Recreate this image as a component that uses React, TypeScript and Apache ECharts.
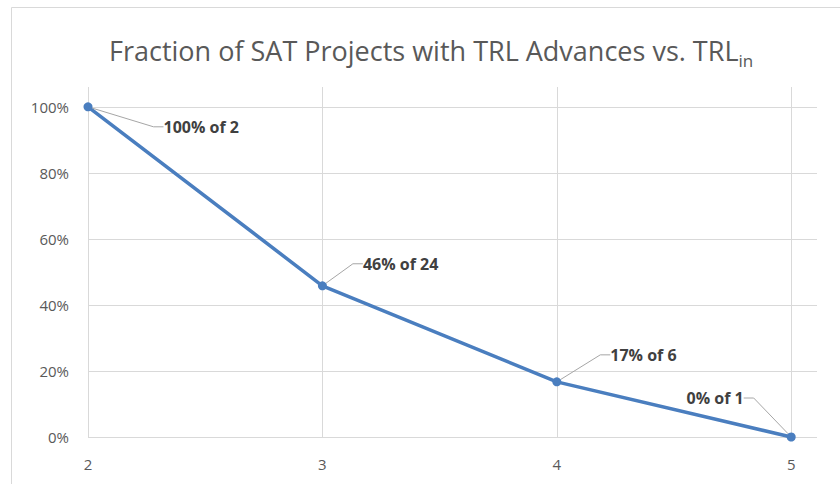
import React, { useEffect, useRef } from "react";
import * as echarts from "echarts";

const trlIn = [2, 3, 4, 5];
const fractionAdvanced = [100, 45.8, 16.7, 0];
const pointLabels = ["100% of 2", "46% of 24", "17% of 6", "0% of 1"];
const xTicks = [2, 3, 4, 5];
const yTicks = [0, 20, 40, 60, 80, 100];

const labelSide = ["right", "right", "right", "left"];
const labelShift = [
  [66, 20],
  [31, -22],
  [44, -27],
  [-38, -39],
];

const FONT = "'Open Sans', 'Noto Sans', sans-serif";

export default function App() {
  const ref = useRef<HTMLDivElement>(null);
  useEffect(() => {
    if (!ref.current) return;
    const chart = echarts.init(ref.current, undefined, { renderer: "svg" });
    chart.setOption({
      animation: false,
      backgroundColor: "#ffffff",
      title: {
        left: 104,
        top: 27,
        text: "{a|Fraction of SAT Projects with TRL Advances vs. TRL}{b|in}",
        textStyle: {
          fontWeight: "normal",
          rich: {
            a: { fontFamily: FONT, fontSize: 27, fontWeight: "normal", color: "#595959", lineHeight: 37 },
            b: { fontFamily: FONT, fontSize: 17, fontWeight: "normal", color: "#595959", lineHeight: 17, verticalAlign: "bottom" },
          },
        },
      },
      graphic: [
        {
          type: "rect",
          silent: true,
          z: -10,
          shape: { x: 11.5, y: 7.5, width: 840, height: 500 },
          style: { fill: "none", stroke: "#d9d9d9", lineWidth: 1 },
        },
      ],
      grid: { left: 88, right: 23, top: 87, bottom: 47 },
      xAxis: {
        type: "value",
        min: 2,
        max: 5.11,
        interval: 1,
        axisLine: { show: false },
        axisTick: { show: false },
        splitLine: { show: false },
        axisLabel: {
          margin: 19,
          fontFamily: FONT,
          fontSize: 15,
          color: "#595959",
          formatter: (v: number) => (xTicks.includes(v) ? String(v) : ""),
        },
      },
      yAxis: {
        type: "value",
        min: 0,
        max: 106,
        interval: 20,
        axisLine: { show: false },
        axisTick: { show: false },
        splitLine: { show: false },
        axisLabel: {
          margin: 19,
          fontFamily: FONT,
          fontSize: 15,
          color: "#595959",
          formatter: (v: number) => (yTicks.includes(v) ? v + "%" : ""),
        },
      },
      series: [
        {
          type: "line",
          data: [],
          silent: true,
          markLine: {
            silent: true,
            z: 1,
            symbol: ["none", "none"],
            label: { show: false },
            lineStyle: { color: "#d9d9d9", type: "solid", width: 1 },
            data: [
              ...xTicks.map((v) => ({ xAxis: v })),
              ...yTicks.map((v) => ({ yAxis: v })),
            ],
          },
        },
        {
          type: "line",
          z: 3,
          symbol: "circle",
          symbolSize: 9,
          itemStyle: { color: "#4a7ebf" },
          lineStyle: { color: "#4a7ebf", width: 3.5 },
          data: trlIn.map((x, i) => ({
            value: [x, fractionAdvanced[i]],
            label: { position: labelSide[i] },
          })),
          label: {
            show: true,
            fontFamily: FONT,
            fontSize: 16,
            fontWeight: "bold",
            color: "#404040",
            formatter: (p: any) => pointLabels[p.dataIndex],
          },
          labelLine: {
            show: true,
            length2: 10,
            lineStyle: { color: "#a6a6a6", width: 1 },
          },
          labelLayout: (p: any) => ({
            dx: labelShift[p.dataIndex][0],
            dy: labelShift[p.dataIndex][1],
          }),
        },
      ],
    });
    return () => chart.dispose();
  }, []);
  return (
    <div
      ref={ref}
      style={{ position: "fixed", left: 0, top: 0, width: 840, height: 484 }}
    />
  );
}
